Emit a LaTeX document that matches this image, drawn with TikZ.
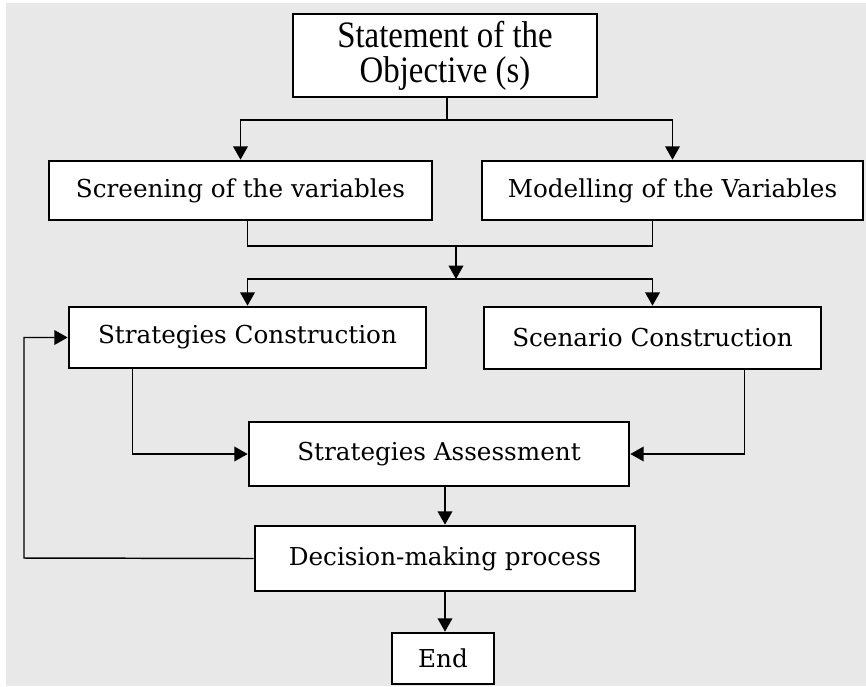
\documentclass[tikz,border=0pt]{standalone}
\usepackage{fontspec}
\setmainfont{DejaVu Serif}
\newfontfamily\stmtfont[FakeStretch=0.88]{Liberation Serif}
\usetikzlibrary{arrows.meta}
\definecolor{bggray}{HTML}{E8E8E8}

\begin{document}
\begin{tikzpicture}[x=0.75pt, y=-0.75pt,
        box/.style={draw, fill=white, line width=2pt, inner sep=0pt,
            font=\fontsize{18.5}{22}\selectfont},
        link/.style={line width=1.1pt},
        arr/.style={link, -{Triangle[length=10pt, width=11pt]}}]
    % page and grey panel
    \useasboundingbox (0,0) rectangle (866,686);
    \fill[bggray] (6,3) rectangle (866,686);

    \node[box, minimum width=228pt, minimum height=62.25pt, align=center,
        font=\stmtfont\fontsize{28}{26}\selectfont] (stmt) at (445,55.5)
        {Statement of the\\Objective (s)};
    \node[box, minimum width=287.25pt, minimum height=44.25pt] (screen) at (240.5,190.5)
        {Screening of the variables};
    \node[box, minimum width=285.75pt, minimum height=44.25pt] (model) at (672.5,190.5)
        {Modelling of the Variables};
    \node[box, minimum width=267.75pt, minimum height=45.75pt] (strat) at (247.5,337.5)
        {Strategies Construction};
    \node[box, minimum width=252.75pt, minimum height=46.5pt] (scen) at (652.5,338)
        {Scenario Construction};
    \node[box, minimum width=285pt, minimum height=48pt] (assess) at (439,454)
        {Strategies Assessment};
    \node[box, minimum width=285pt, minimum height=48.75pt] (decide) at (445,558.5)
        {Decision-making process};
    \node[box, minimum width=76.5pt, minimum height=38.25pt] (end) at (443,658.5)
        {End};

    \coordinate (fork1) at (447,120);
    \coordinate (join1) at (456,246);
    \coordinate (fork2) at (456,279);
    \coordinate (loop) at (24,558);

    \draw[link] (stmt.south -| fork1) -- (fork1);
    \foreach \n in {screen, model} {
        \draw[arr] (fork1) -| (\n.north);
    }
    \draw[link] (screen.south -| strat) |- (join1) -| (model.south -| scen);
    \draw[arr] (join1) -- (fork2);
    \foreach \n in {strat, scen} {
        \draw[arr] (fork2) -| (\n.north);
    }

    \draw[arr] ([xshift=48.75pt]strat.south west) |- (assess.west);
    \draw[arr] ([xshift=-58.5pt]scen.south east) |- (assess.east);
    \draw[arr] (assess.south -| decide) -- (decide.north);
    \draw[arr] (decide.west) -- (loop) |- (strat.west);
    \draw[arr] (decide.south) -- (decide.south |- end.north);
\end{tikzpicture}
\end{document}
